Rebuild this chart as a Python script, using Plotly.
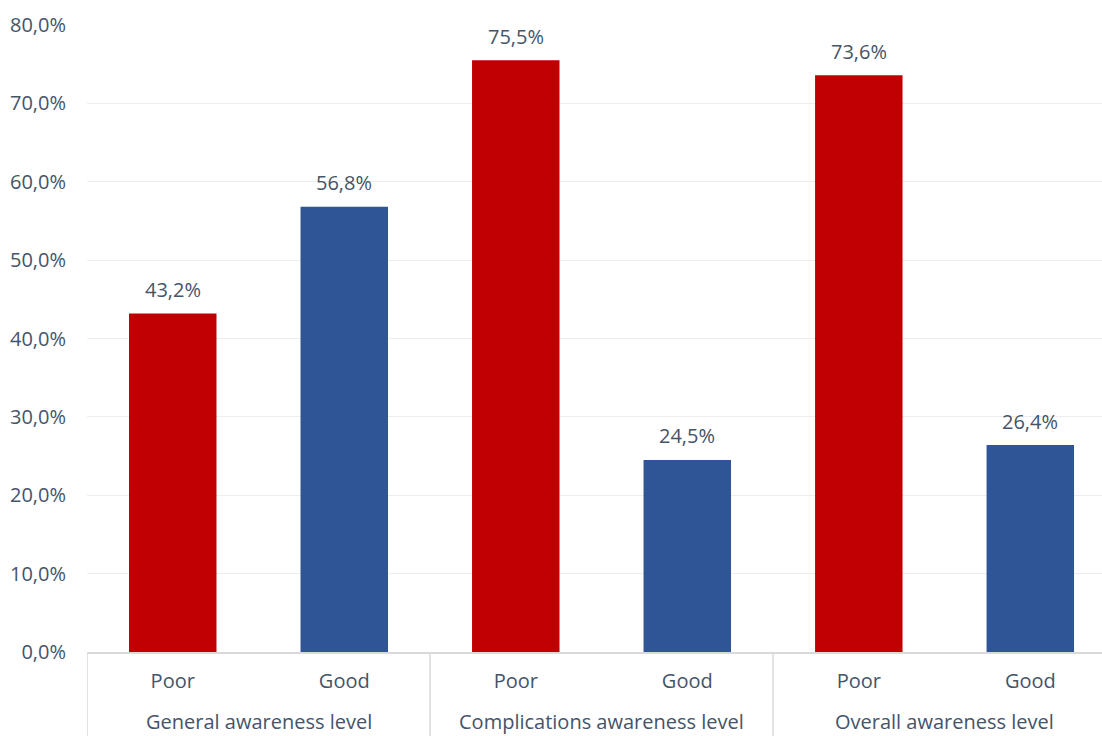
import plotly.graph_objects as go

groups = ["General awareness level", "Complications awareness level", "Overall awareness level"]
levels = ["Poor", "Good"]
values = [43.2, 56.8, 75.5, 24.5, 73.6, 26.4]
colors = ["#C00000", "#2F5597"]

n = len(values)
xpos = list(range(n))
x_levels = [l for _ in groups for l in levels]
bar_colors = [colors[i % 2] for i in range(n)]
labels = [f"{v:.1f}".replace(".", ",") + "%" for v in values]

txt = "#44546A"
font = "Open Sans"
fs = 20

fig = go.Figure(go.Bar(
    x=xpos, y=values,
    marker=dict(color=bar_colors, line=dict(width=0)),
    width=0.51,
))

# data labels above bars
for xi, v, lab in zip(xpos, values, labels):
    fig.add_annotation(x=xi, y=v, text=lab, showarrow=False, yanchor="middle",
                       yshift=24, font=dict(size=fs, color=txt, family=font))

# group labels and dividers
for gi, g in enumerate(groups):
    fig.add_annotation(x=gi * 2 + 0.5, y=0, yref="paper", text=g, showarrow=False,
                       yanchor="middle", yshift=-69, font=dict(size=fs, color=txt, family=font))
for gi in range(len(groups) + 1):
    fig.add_shape(type="line", xref="x", yref="paper", x0=gi * 2 - 0.5, x1=gi * 2 - 0.5,
                  y0=0, y1=-0.14, line=dict(color="#D9D9D9", width=1.5))

fig.update_layout(
    width=1102, height=736,
    margin=dict(l=87, r=0, t=25, b=84),
    paper_bgcolor="white", plot_bgcolor="white",
    separators=",.",
    showlegend=False,
    font=dict(family=font, size=fs, color=txt),
    xaxis=dict(
        range=[-0.5, 5.418],
        tickmode="array", tickvals=xpos, ticktext=x_levels,
        showline=True, linecolor="#D9D9D9", linewidth=1.5,
        tickfont=dict(size=fs, color=txt, family=font),
        ticks="", showgrid=False, zeroline=False,
        ticklabelstandoff=10,
    ),
    yaxis=dict(
        range=[0, 80], dtick=10, tickformat=".1f", ticksuffix="%",
        showgrid=True, gridcolor="#EDEDED", gridwidth=1,
        zeroline=False, showline=False, ticks="",
        tickfont=dict(size=fs, color=txt, family=font),
        ticklabelstandoff=20,
    ),
)

fig.write_html("out.html")
